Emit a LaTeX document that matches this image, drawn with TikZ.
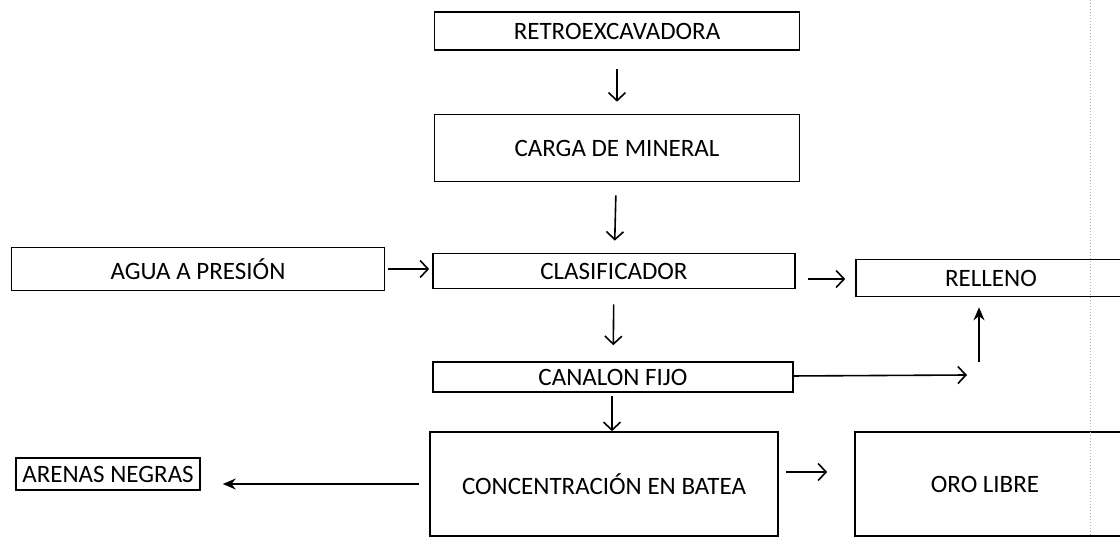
\documentclass[tikz,border=0pt]{standalone}
\usepackage{fontspec}
\setmainfont{Carlito}
\usepackage{tikz}
\usetikzlibrary{positioning, arrows.meta, calc}
\tikzset{
    every node/.style={ % Text size of all the boxes
        font=\fontsize{25}{28}\selectfont
    },
    box/.style={ % Sets the properties for each box
        draw,
        line width=1.6pt,
        inner sep=0pt
    },
    every edge/.style={ % Sets the properties for each arrow
        draw,
        -{Straight Barb[length=8pt,width=17pt]}, % Open arrow heads
        line width=1.6pt
    },
}

\begin{document}
\begin{tikzpicture}[x=1pt,y=-1pt]
            \tikzset{
                fl/.style={-{Stealth[length=13pt,width=11pt]}}
            }
            \useasboundingbox (0,0) rectangle (1120,537);
            \node[box, minimum width=365pt, minimum height=38pt]  (retro)   at (617,31)  {RETROEXCAVADORA};
            \node[box, minimum width=365pt, minimum height=67pt]  (carga)   at (617,148) {CARGA DE MINERAL};
            \node[box, minimum width=362pt, minimum height=35pt]  (clasif)  at (614,271) {CLASIFICADOR};
            \node[box, minimum width=373pt, minimum height=43pt]  (agua)    at (198,269) {AGUA A PRESIÓN};
            \node[box, minimum width=270pt, minimum height=37pt]  (relleno) at (991,278) {RELLENO};
            \node[box, minimum width=360pt, minimum height=30pt]  (canalon) at (613,377) {CANALON FIJO};
            \node[box, minimum width=348pt, minimum height=104pt] (conc)    at (604,484) {CONCENTRACIÓN EN BATEA};
            \node[box, minimum width=290pt, minimum height=104pt,
                  label={[xshift=-15pt]center:ORO LIBRE}]        (oro)     at (1000,484) {};
            \node[box, minimum width=184pt, minimum height=32pt]  (arenas)  at (108,474) {ARENAS NEGRAS};

            \coordinate (fin) at (967,375);
            \coordinate (up)  at (979,362);

            \draw   (retro)     edge[shorten <=18pt, shorten >=12pt]    (carga)
                    (carga)     edge[shorten <=13pt, shorten >=12pt]    (clasif)
                    (agua)      edge[shorten <=3pt,  shorten >=3pt]     (agua -| clasif.west)
                    ([yshift=-8pt]clasif.east) edge[shorten <=12pt, shorten >=10pt] ([yshift=-8pt]relleno.west |- clasif.east)
                    (clasif)    edge[shorten <=15pt, shorten >=16pt]    (canalon)
                    (canalon)   edge                                    (fin)
                    (up)        edge[fl, shorten >=10pt]                (up |- relleno.south)
                    (canalon.south -| 612,0) edge[shorten <=3pt]       (conc.north -| 612,0)
                    ([yshift=12pt]conc.east) edge[shorten <=7pt, shorten >=27pt] ([yshift=12pt]oro.west)
                    (conc)      edge[fl, shorten <=10pt, shorten >=22pt] (arenas.east |- conc.west)
            ;
            \draw[gray!60, dotted, line width=1pt] (1090,0) -- (1090,537);
        \end{tikzpicture}
\end{document}
